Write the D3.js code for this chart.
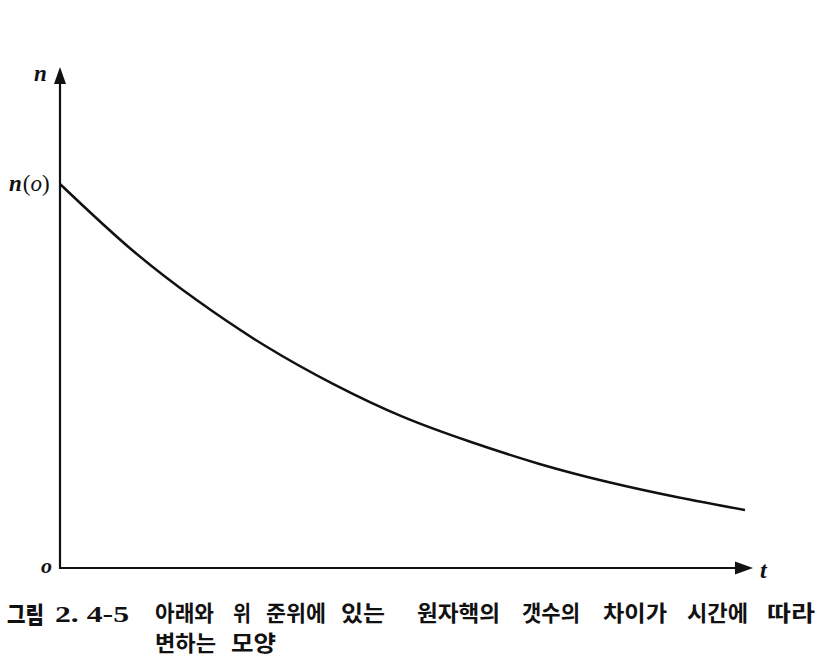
<!DOCTYPE html>
<html><head><meta charset="utf-8">
<script src="https://cdn.jsdelivr.net/npm/d3@7"></script>
<style>body{margin:0;background:#fff}svg{display:block}</style>
</head><body>
<svg id="c" width="822" height="664"></svg>
<script>
const tValues = [0, 1, 2, 3, 4, 5, 6, 7, 8, 9, 10];
const nValues = [1.000, 0.836, 0.697, 0.578, 0.478, 0.394, 0.328, 0.271, 0.224, 0.185, 0.151];
const axisLabels = {y: "n", x: "t", origin: "o", start: "n(o)"};
const captionLabel = ["그림", "2. 4-5"];
const captionLine1 = ["아래와", "위", "준위에", "있는", "원자핵의", "갯수의", "차이가", "시간에", "따라"];
const captionLine2 = ["변하는", "모양"];

const svg = d3.select("#c");
const x = d3.scaleLinear().domain([0, 10]).range([60, 745]);
const y = d3.scaleLinear().domain([0, 1]).range([568, 184]);
const ink = "#111";

// axes
svg.append("line").attr("x1", x(0)).attr("x2", x(0)).attr("y1", y(0)+1).attr("y2", 80)
  .attr("stroke", ink).attr("stroke-width", 2.2);
svg.append("line").attr("x1", x(0)-1).attr("x2", 740).attr("y1", y(0)).attr("y2", y(0))
  .attr("stroke", ink).attr("stroke-width", 2.2);
svg.append("path").attr("d", `M${x(0)},67 L${x(0)-6},84 L${x(0)+6},84 Z`).attr("fill", ink);
svg.append("path").attr("d", `M753,${y(0)} L735,${y(0)-6.5} L735,${y(0)+6.5} Z`).attr("fill", ink);

// curve
const data = tValues.map((t, i) => ({t, n: nValues[i]}));
svg.append("path").datum(data)
  .attr("fill", "none").attr("stroke", ink).attr("stroke-width", 2.5)
  .attr("d", d3.line().x(d => x(d.t)).y(d => y(d.n)).curve(d3.curveNatural));

// labels
const serif = "'Liberation Serif','DejaVu Serif',serif";
svg.append("text").attr("x", 34).attr("y", 81).attr("font-family", serif)
  .attr("font-style", "italic").attr("font-weight", "bold").attr("font-size", 23).attr("fill", ink).text(axisLabels.y);
const st = svg.append("text").attr("x", 9).attr("y", 191).attr("font-family", serif)
  .attr("font-size", 23).attr("fill", ink);
st.append("tspan").attr("font-style", "italic").attr("font-weight", "bold").text("n");
st.append("tspan").attr("dx", 1).text("(");
st.append("tspan").attr("font-style", "italic").text("o");
st.append("tspan").text(")");
svg.append("text").attr("x", 41).attr("y", 573).attr("font-family", serif)
  .attr("font-style", "italic").attr("font-weight", "bold").attr("font-size", 22).attr("fill", ink).text(axisLabels.origin);
svg.append("text").attr("x", 760).attr("y", 578).attr("font-family", serif)
  .attr("font-style", "italic").attr("font-weight", "bold").attr("font-size", 24).attr("fill", ink).text(axisLabels.x);

// caption
const kr = "'Noto Sans CJK KR','Noto Sans CJK SC',sans-serif";
svg.append("text").attr("x", 7).attr("y", 623).attr("font-family", kr).attr("font-weight", 900)
  .attr("font-size", 23).attr("textLength", 37).attr("lengthAdjust", "spacingAndGlyphs").attr("fill", ink).text(captionLabel[0]);
svg.append("text").attr("x", 55).attr("y", 622).attr("font-family", serif).attr("font-weight", "bold")
  .attr("font-size", 23).attr("textLength", 74).attr("lengthAdjust", "spacingAndGlyphs").attr("fill", ink).text(captionLabel[1]);
const l1x = [155, 233, 266, 341, 417, 522, 603, 687, 767];
const l1w = [59, 18, 60, 44, 83, 58, 64, 61, 48];
captionLine1.forEach((w, i) => {
  svg.append("text").attr("x", l1x[i]).attr("y", 621).attr("font-family", kr).attr("font-weight", 700)
    .attr("font-size", 22).attr("textLength", l1w[i]).attr("lengthAdjust", "spacingAndGlyphs").attr("fill", ink).text(w);
});
const l2x = [155, 231];
const l2w = [61, 45];
captionLine2.forEach((w, i) => {
  svg.append("text").attr("x", l2x[i]).attr("y", 651).attr("font-family", kr).attr("font-weight", 700)
    .attr("font-size", 22).attr("textLength", l2w[i]).attr("lengthAdjust", "spacingAndGlyphs").attr("fill", ink).text(w);
});
</script>
</body></html>
